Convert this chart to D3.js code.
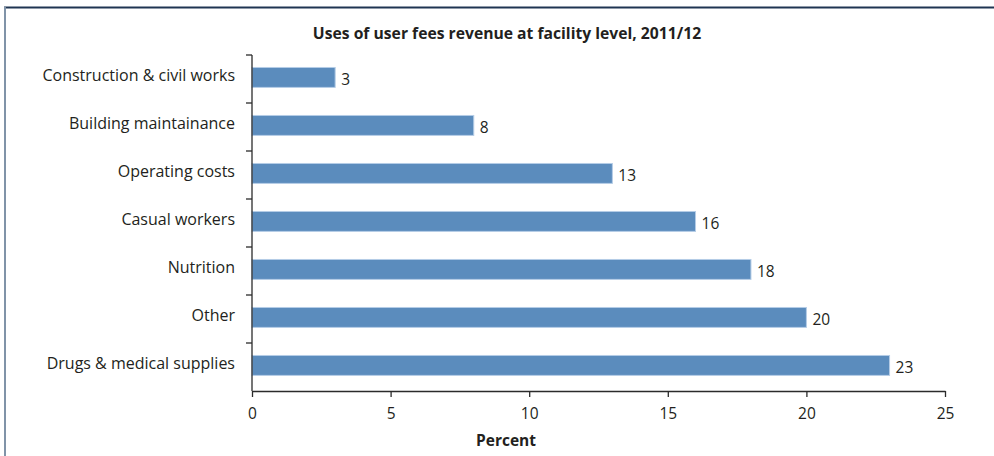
<!DOCTYPE html>
<html>
<head>
<meta charset="utf-8">
<script src="https://cdn.jsdelivr.net/npm/d3@7"></script>
<style>
  html, body { margin: 0; padding: 0; background: #fff; }
  svg { display: block; font-family: "Open Sans", "Noto Sans", sans-serif; }
</style>
</head>
<body>
<svg id="chart" width="994" height="456"></svg>
<script>
// Uses of user fees revenue at facility level, 2011/12 (percent)
const categories = [
  "Construction & civil works",
  "Building maintainance",
  "Operating costs",
  "Casual workers",
  "Nutrition",
  "Other",
  "Drugs & medical supplies"
];
const percents = [3, 8, 13, 16, 18, 20, 23];
const xTicks = [0, 5, 10, 15, 20, 25];

const titleText = "Uses of user fees revenue at facility level, 2011/12";
const xTitle = "Percent";

const svg = d3.select("#chart");
const W = 994, H = 456;
const margin = { top: 55, left: 252, right: 49, bottom: 65 };
const plotW = W - margin.left - margin.right;
const plotH = H - margin.top - margin.bottom;

const textColor = "#231f20";
const axisColor = "#2b2b2b";

// panel frame: top rule and left rule
svg.append("line")
  .attr("x1", 4).attr("x2", W).attr("y1", 7.5).attr("y2", 7.5)
  .attr("stroke", "#1f3552").attr("stroke-width", 2);
svg.append("line")
  .attr("x1", 5).attr("x2", 5).attr("y1", 7).attr("y2", H)
  .attr("stroke", "#8093a8").attr("stroke-width", 2);

const x = d3.scaleLinear().domain([0, 25]).range([0, plotW]);
// one slot per category; tick marks sit on slot boundaries
const y = d3.scaleBand().domain(categories).range([0, plotH]).padding(0);
const barH = y.step() * 0.415;
const barOffset = y.step() * 0.26;

const g = svg.append("g").attr("transform", `translate(${margin.left},${margin.top})`);

// bars
const rows = categories.map((c, i) => ({ c, v: percents[i] }));
g.selectAll("rect.bar").data(rows).join("rect")
  .attr("class", "bar")
  .attr("x", 0)
  .attr("y", d => y(d.c) + barOffset)
  .attr("width", d => x(d.v))
  .attr("height", barH)
  .attr("fill", "#5b8cbd")
  .attr("stroke", "#b5cde6")
  .attr("stroke-width", 1);

// value labels
g.selectAll("text.val").data(rows).join("text")
  .attr("class", "val")
  .attr("x", d => x(d.v) + 6)
  .attr("y", d => y(d.c) + barOffset + barH / 2 + 7.5)
  .attr("font-size", 15.5)
  .attr("fill", textColor)
  .text(d => d3.format("d")(d.v));

// x axis
const xAxis = g.append("g")
  .attr("transform", `translate(0,${plotH})`)
  .call(d3.axisBottom(x).tickValues(xTicks).tickSize(6).tickSizeOuter(0));
xAxis.select(".domain").attr("stroke", axisColor).attr("stroke-width", 1.3);
xAxis.selectAll(".tick line").attr("stroke", axisColor).attr("stroke-width", 1.3);
xAxis.selectAll(".tick text")
  .attr("font-size", 15.5).attr("fill", textColor)
  .attr("font-family", "'Open Sans', sans-serif")
  .attr("dy", null).attr("y", 28);

// y axis
const yAxis = g.append("g");
yAxis.append("line")
  .attr("x1", 0).attr("x2", 0).attr("y1", 0).attr("y2", plotH)
  .attr("stroke", axisColor).attr("stroke-width", 1.3);
const boundaries = categories.map(c => y(c));
yAxis.selectAll("line.tk").data(boundaries).join("line")
  .attr("class", "tk")
  .attr("x1", -6).attr("x2", 0)
  .attr("y1", d => d).attr("y2", d => d)
  .attr("stroke", axisColor).attr("stroke-width", 1.3);
yAxis.selectAll("text.cat").data(categories).join("text")
  .attr("class", "cat")
  .attr("x", -17)
  .attr("y", d => y(d) + 26)
  .attr("text-anchor", "end")
  .attr("font-size", 16)
  .attr("fill", textColor)
  .text(d => d);

// titles
svg.append("text")
  .attr("x", 507).attr("y", 39)
  .attr("text-anchor", "middle")
  .attr("font-size", 15.7).attr("font-weight", "bold")
  .attr("fill", textColor)
  .text(titleText);

svg.append("text")
  .attr("x", 506).attr("y", 446)
  .attr("text-anchor", "middle")
  .attr("font-size", 15.5).attr("font-weight", "bold")
  .attr("fill", textColor)
  .text(xTitle);
</script>
</body>
</html>
